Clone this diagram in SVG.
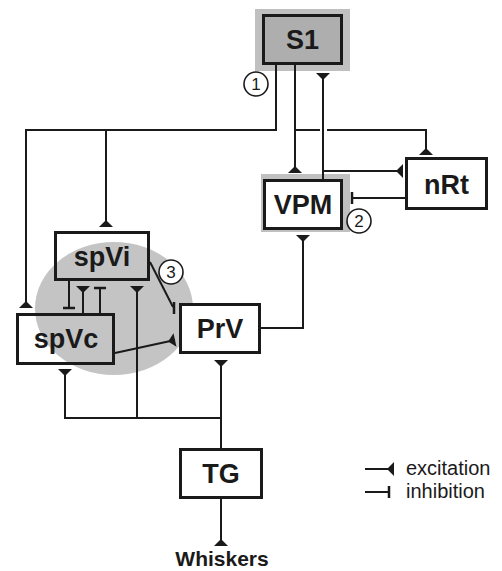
<svg xmlns="http://www.w3.org/2000/svg" width="502" height="571" viewBox="0 0 502 571">
<style>
.box{stroke:#1a1a1a;stroke-width:3;}
.lbl{font-family:"Liberation Sans",Arial,sans-serif;font-weight:bold;font-size:27px;fill:#1a1a1a;text-anchor:middle;}
.num{font-family:"Liberation Sans",Arial,sans-serif;font-size:17px;fill:#1a1a1a;text-anchor:middle;}
.leg{font-family:"Liberation Sans",Arial,sans-serif;font-size:20px;fill:#1a1a1a;}
.ln{fill:none;stroke:#1a1a1a;stroke-width:2;}
.exc{marker-end:url(#ex);}
.inh{marker-end:url(#inh);}
.bar{stroke:#1a1a1a;stroke-width:2.5;}
.shadow{fill:#c0c0c0;}
.circ{fill:#fff;stroke:#1a1a1a;stroke-width:1.6;}
</style>
<defs>
<marker id="ex" viewBox="-8 -8 10 16" markerWidth="10" markerHeight="16" refX="0" refY="0" orient="auto" markerUnits="userSpaceOnUse">
<path d="M0,-7 L0,7 L-7,0 Z" fill="#1a1a1a"/>
</marker>
<marker id="inh" viewBox="-2 -7 4 14" markerWidth="4" markerHeight="14" refX="0" refY="0" orient="auto" markerUnits="userSpaceOnUse">
<rect x="-1.25" y="-6" width="2.5" height="12" fill="#1a1a1a"/>
</marker>
</defs>
<rect width="502" height="571" fill="#fff"/>
<ellipse id="trigeminal-region" cx="114" cy="308.5" rx="79" ry="66.5" fill="#c4c4c4"/>
<g id="node-S1">
<rect class="shadow" x="255" y="9" width="95" height="62"/>
<rect class="box" x="263.5" y="15.5" width="78" height="48" fill="#aeaeae"/>
<text class="lbl" x="302.5" y="49">S1</text>
</g>
<g id="node-VPM">
<rect class="shadow" x="261" y="174" width="89" height="58"/>
<rect class="box" x="264.5" y="180.5" width="77" height="48" fill="#fff"/>
<text class="lbl" x="303" y="214">VPM</text>
</g>
<g id="node-nRt">
<rect class="box" x="406.5" y="158.5" width="80" height="50" fill="#fff"/>
<text class="lbl" x="446.5" y="194">nRt</text>
</g>
<g id="node-spVi">
<rect class="box" x="55.5" y="232.5" width="93" height="47" fill="none"/>
<text class="lbl" x="102" y="266">spVi</text>
</g>
<g id="node-spVc">
<rect class="box" x="17.5" y="314.5" width="96" height="49" fill="none"/>
<text class="lbl" x="66" y="348">spVc</text>
</g>
<g id="node-PrV">
<rect class="box" x="180.5" y="304.5" width="79" height="48" fill="#fff"/>
<text class="lbl" x="220" y="338">PrV</text>
</g>
<g id="node-TG">
<rect class="box" x="180.5" y="449.5" width="81" height="48" fill="#fff"/>
<text class="lbl" x="221" y="483">TG</text>
</g>
<g id="node-Whiskers">
<text class="lbl" x="222" y="566" style="font-size:21px">Whiskers</text>
</g>
<g id="connectors">
<path class="ln exc" d="M276,65 V130 H26 V308"/>
<path class="ln exc" d="M106,130 V227"/>
<path class="ln exc" d="M295,65 V173"/>
<path class="ln" d="M295,130 H320"/>
<path class="ln exc" d="M327,130 H426 V155"/>
<path class="ln exc" d="M323,179 V73"/>
<path class="ln exc" d="M323,171 H403"/>
<path class="ln inh" d="M405,198 H352"/>
<path class="ln exc" d="M261,328 H303 V235"/>
<path class="ln inh" d="M69,281 V308"/>
<path class="ln exc" d="M83,313 V286"/>
<path class="ln inh" d="M100,313 V288"/>
<path class="ln exc" d="M137,418 V286"/>
<path class="ln" d="M150,262 L173,307"/>
<line class="bar" x1="174" y1="302" x2="174" y2="314"/>
<path class="ln exc" d="M115,353 L175,340"/>
<path class="ln exc" d="M221,448 V360"/>
<path class="ln exc" d="M221,418 H65 V369"/>
<path class="ln exc" d="M221,499 V546"/>
</g>
<g id="labels">
<circle class="circ" cx="256" cy="84" r="12"/>
<text class="num" x="256" y="90">1</text>
<circle class="circ" cx="359" cy="221" r="12"/>
<text class="num" x="359" y="227">2</text>
<circle class="circ" cx="171" cy="272" r="12"/>
<text class="num" x="171" y="278">3</text>
</g>
<g id="legend">
<path class="ln exc" d="M365,469 H394"/>
<text class="leg" x="406" y="475">excitation</text>
<path class="ln inh" d="M365,492 H389"/>
<text class="leg" x="406" y="498">inhibition</text>
</g>
</svg>
